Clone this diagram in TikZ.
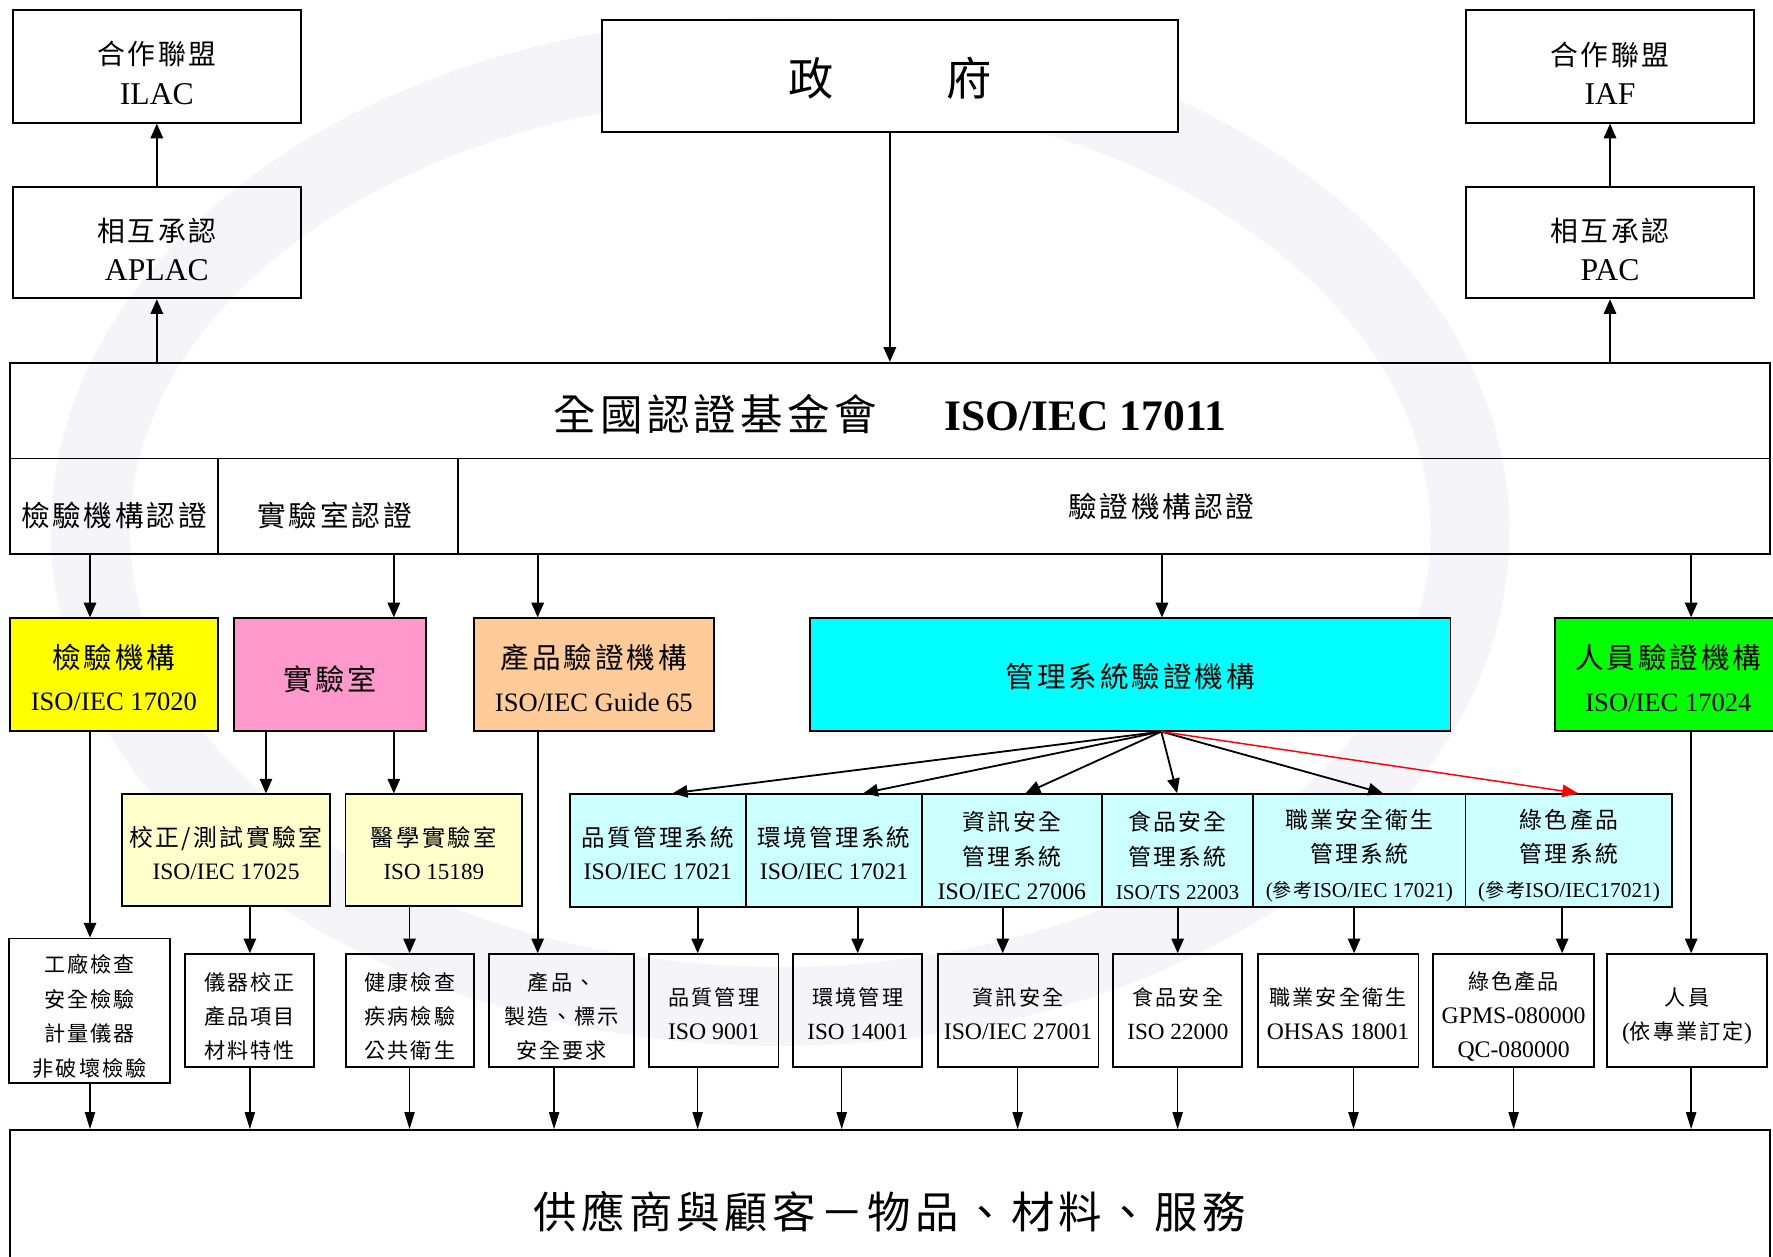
\documentclass[tikz,border=0pt]{standalone}
\usepackage{fontspec}
\setmainfont{Liberation Serif}
\newfontfamily\cjkls[LetterSpace=10]{Noto Sans CJK TC}
\newfontfamily\cjkn{Noto Sans CJK TC}
\newcommand\Cj[2]{{\fontsize{#1}{#1}\cjkls #2}}
\newcommand\Cn[2]{{\fontsize{#1}{#1}\cjkn #2}}
\newcommand\Fs[2]{\fontsize{#1}{#2}\selectfont}
\usetikzlibrary{arrows.meta}
\definecolor{cYel}{HTML}{FFFF00}
\definecolor{cPink}{HTML}{FF99CC}
\definecolor{cOrg}{HTML}{FFCC99}
\definecolor{cCyan}{HTML}{00FFFF}
\definecolor{cGrn}{HTML}{00FF00}
\definecolor{cLYel}{HTML}{FFFFCC}
\definecolor{cLCyan}{HTML}{CCFFFF}
\definecolor{cRed}{HTML}{FF0000}
\definecolor{cMark}{HTML}{F4F4F9}
\tikzset{
  box/.style={draw, line width=1.6pt, inner sep=0pt},
  txt/.style={align=center, inner sep=0pt},
  dn/.style={yshift=-#1pt},
  arr/.style={-{Triangle[length=13pt,width=11pt]}, line width=1.6pt},
  thinarr/.style={-{Triangle[length=15pt,width=9pt]}, line width=1.2pt},
  redarr/.style={-{Triangle[length=14pt,width=11pt]}, line width=1.3pt, draw=cRed, fill=cRed},
  wmark/.style={draw=cMark, line width=70pt},
}
% name, x1, y1, x2, y2, box options, text options, text
\newcommand\bx[8]{%
  \node[box,#6,minimum width={(#4)-(#2)},minimum height={(#5)-(#3)}] (#1) at ({((#2)+(#4))/2},{((#3)+(#5))/2}) {};
  \node[txt,#7] (#1t) at (#1.center) {#8};}
\begin{document}
\begin{tikzpicture}[x=1pt,y=-1pt]
\useasboundingbox (0,0) rectangle (1568,1111);
% faint background watermark ring
\draw[wmark] (690,470) ellipse [x radius=610, y radius=420];
% top row
\bx{ilac}{11.2}{8.8}{266.2}{108.5}{}{font=\Fs{28}{35},dn=6}{\Cj{24.6}{合作聯盟}\\ILAC}
\bx{aplac}{11.2}{165.1}{266.2}{263.8}{}{font=\Fs{28}{35},dn=6}{\Cj{24.6}{相互承認}\\APLAC}
\bx{iaf}{1296.5}{8.8}{1551.2}{108.5}{}{font=\Fs{28}{35},dn=6}{\Cj{24.6}{合作聯盟}\\IAF}
\bx{pac}{1296.5}{165.1}{1551.2}{263.8}{}{font=\Fs{28}{35},dn=6}{\Cj{24.6}{相互承認}\\PAC}
\bx{gov}{532.2}{17.7}{1041.7}{117}{fill=white}{dn=2}{\Cn{40}{政\hspace{100pt}府}}
% national box
\bx{nafa}{8.7}{320.8}{1565.5}{405.5}{}{dn=3}{\Cj{37.6}{全國認證基金會}\hspace{60pt}{\bfseries\Fs{38.5}{40}ISO/IEC 17011}}
\bx{insc}{8.7}{405.5}{193}{490}{}{dn=8}{\Cj{25.3}{檢驗機構認證}}
\bx{labc}{193}{405.5}{405}{490}{}{dn=8,xshift=-3pt}{\Cj{25.3}{實驗室認證}}
\bx{cerc}{405}{405.5}{1565.5}{490}{}{}{}
\node[txt] (cert) at (1027,448) {\Cj{25.3}{驗證機構認證}};
% second row
\bx{insp}{8.8}{546.8}{192.6}{646.2}{fill=cYel}{font=\Fs{23.5}{37},dn=2.5}{\Cj{25.3}{檢驗機構}\\ISO/IEC 17020}
\bx{lab}{206.9}{546.8}{376.7}{646.2}{fill=cPink}{dn=4}{\Cj{25.8}{實驗室}}
\bx{prod}{418.9}{546.8}{631.5}{646.2}{fill=cOrg}{font=\Fs{23.5}{38},dn=3}{\Cj{25.3}{產品驗證機構}\\ISO/IEC Guide 65}
\bx{msc}{716.4}{546.8}{1282.7}{646.2}{fill=cCyan}{dn=2}{\Cj{25.3}{管理系統驗證機構}}
\bx{pers}{1375}{546.8}{1576}{646.2}{fill=cGrn}{font=\Fs{23.5}{38},dn=3}{\Cj{25.3}{人員驗證機構}\\ISO/IEC 17024}
% labs
\bx{cal}{108}{702.5}{291.8}{801.5}{fill=cLYel}{font=\Fs{20.8}{29},dn=2.5}{\Cj{21.1}{校正/測試實驗室}\\ISO/IEC 17025}
\bx{med}{305.6}{702.5}{461.7}{801.5}{fill=cLYel}{font=\Fs{20.4}{29},dn=2.5}{\Cj{20.6}{醫學實驗室}\\ISO 15189}
% management systems
\bx{mq}{503.8}{702.3}{659.8}{801.8}{fill=cLCyan}{font=\Fs{21}{29},dn=2.5}{\Cj{20.8}{品質管理系統}\\ISO/IEC 17021}
\bx{me}{659.8}{702.3}{815.5}{801.8}{fill=cLCyan}{font=\Fs{21}{29},dn=2.5}{\Cj{20.8}{環境管理系統}\\ISO/IEC 17021}
\bx{mi}{815.5}{702.3}{974.3}{801.8}{fill=cLCyan}{font=\Fs{21}{30.5},dn=4.5}{\Cj{20.2}{資訊安全}\\\Cj{20.2}{管理系統}\\ISO/IEC 27006}
\bx{mf}{974.3}{702.3}{1108.4}{801.8}{fill=cLCyan}{font=\Fs{18.8}{30.5},dn=4.5}{\Cj{20.2}{食品安全}\\\Cj{20.2}{管理系統}\\ISO/TS 22003}
\bx{mo}{1108.4}{702.3}{1296}{801.8}{fill=cLCyan}{font=\Fs{18.8}{30.5},dn=4.5}{\Cj{20.2}{職業安全衛生}\\\Cj{20.2}{管理系統}\\(\Cj{16.9}{參考}ISO/IEC 17021)}
\bx{mg}{1296}{702.3}{1479}{801.8}{fill=cLCyan}{font=\Fs{18.8}{30.5},dn=4.5}{\Cj{20.2}{綠色產品}\\\Cj{20.2}{管理系統}\\(\Cj{16.9}{參考}ISO/IEC17021)}
% bottom row
\bx{bf}{8.3}{829.9}{150.3}{958.1}{}{font=\Fs{21}{30.5},dn=5}{\Cj{18.7}{工廠檢查}\\\Cj{18.7}{安全檢驗}\\\Cj{18.7}{計量儀器}\\\Cj{18.7}{非破壞檢驗}}
\bx{bc}{163.6}{843.8}{277.7}{943.4}{}{font=\Fs{21}{30},dn=5}{\Cj{18.7}{儀器校正}\\\Cj{18.7}{產品項目}\\\Cj{18.7}{材料特性}}
\bx{bh}{305.7}{843.8}{419.2}{943.4}{}{font=\Fs{21}{30},dn=5}{\Cj{18.7}{健康檢查}\\\Cj{18.7}{疾病檢驗}\\\Cj{18.7}{公共衛生}}
\bx{bp}{432.7}{843.8}{560.7}{943.4}{}{font=\Fs{21}{30},dn=5}{\Cj{18.7}{產品、}\\\Cj{18.7}{製造、標示}\\\Cj{18.7}{安全要求}}
\bx{bq}{574.3}{843.8}{688.4}{943.4}{}{font=\Fs{21}{30},dn=3}{\Cj{18.7}{品質管理}\\ISO 9001}
\bx{be}{701.6}{843.8}{815.7}{943.4}{}{font=\Fs{20.5}{30},dn=3}{\Cj{18.7}{環境管理}\\ISO 14001}
\bx{bi}{829.3}{843.8}{971.4}{943.4}{}{font=\Fs{21}{30},dn=3}{\Cj{18.7}{資訊安全}\\ISO/IEC 27001}
\bx{bfo}{984.6}{843.8}{1098.7}{943.4}{}{font=\Fs{20.5}{30},dn=3}{\Cj{18.7}{食品安全}\\ISO 22000}
\bx{bo}{1112.3}{843.8}{1254.4}{943.4}{}{font=\Fs{20.9}{30},dn=3}{\Cj{18.7}{職業安全衛生}\\OHSAS 18001}
\bx{bg}{1267.6}{843.8}{1409.6}{943.4}{}{font=\Fs{21}{30},dn=5}{\Cj{18.7}{綠色產品}\\GPMS-080000\\QC-080000}
\bx{bpe}{1421.2}{843.8}{1562.7}{943.4}{}{font=\Fs{21}{30},dn=5}{\Cj{18.7}{人員}\\(\Cj{18.7}{依專業訂定})}
% supply
\bx{sup}{8.5}{999.4}{1565}{1140}{}{dn=2}{\Cj{38.4}{供應商與顧客－物品、材料、服務}}
% connectors top
\draw[arr] (aplac.north) -- (ilac.south);
\draw[arr] (nafa.north -| aplac.south) -- (aplac.south);
\draw[arr] (pac.north) -- (iaf.south);
\draw[arr] (nafa.north -| pac.south) -- (pac.south);
\draw[arr] (gov.south) -- (gov.south |- nafa.north);
% from accreditation cells
\draw[arr] (insc.south -| 79.6,0) -- (insp.north -| 79.6,0);
\draw[arr] (labc.south -| 348.3,0) -- (lab.north -| 348.3,0);
\draw[arr] (cerc.south -| 475.5,0) -- (prod.north -| 475.5,0);
\draw[arr] (cerc.south -| 1027.6,0) -- (msc.north -| 1027.6,0);
\draw[arr] (cerc.south -| 1495.6,0) -- (pers.north -| 1495.6,0);
% second level
\draw[arr] (lab.south -| 235.2,0) -- (cal.north -| 235.2,0);
\draw[arr] (lab.south -| 348.3,0) -- (med.north -| 348.3,0);
\draw[arr] (insp.south -| 79.6,0) -- (bf.north -| 79.6,0);
\draw[arr] (cal.south -| 221,0) -- (bc.north -| 221,0);
\draw[arr] (med.south -| 362.2,0) -- (bh.north -| 362.2,0);
\draw[arr] (prod.south -| 475.5,0) -- (bp.north -| 475.5,0);
% fan
\coordinate (fan) at (msc.south -| 1027,0);
\draw[arr] (fan) -- (mq.north -| 595,0);
\draw[arr] (fan) -- (me.north -| 763.5,0);
\draw[arr] (fan) -- (mi.north -| 907,0);
\draw[arr] (fan) -- (mf.north -| 1041,0);
\draw[arr] (fan) -- (mo.north -| 1223,0);
\draw[redarr] (fan) -- (mg.north -| 1395.6,0);
% ms down
\draw[arr] (mq.south -| 617,0) -- (bq.north -| 617,0);
\draw[arr] (me.south -| 758.5,0) -- (be.north -| 758.5,0);
\draw[arr] (mi.south -| 886.8,0) -- (bi.north -| 886.8,0);
\draw[arr] (mf.south -| 1041.5,0) -- (bfo.north -| 1041.5,0);
\draw[arr] (mo.south -| 1197.5,0) -- (bo.north -| 1197.5,0);
\draw[arr] (mg.south -| 1381.5,0) -- (bg.north -| 1381.5,0);
\draw[arr] (pers.south -| 1495.6,0) -- (bpe.north -| 1495.6,0);
% to supply
\foreach \n/\x in {bf/79.6,bc/221,bh/362.2,bp/490,bq/617,be/744.4,bi/900,bfo/1041.5,bo/1197,bg/1338.6,bpe/1495.6}
  \draw[thinarr] (\n.south -| \x,0) -- (sup.north -| \x,0);
\end{tikzpicture}
\end{document}
